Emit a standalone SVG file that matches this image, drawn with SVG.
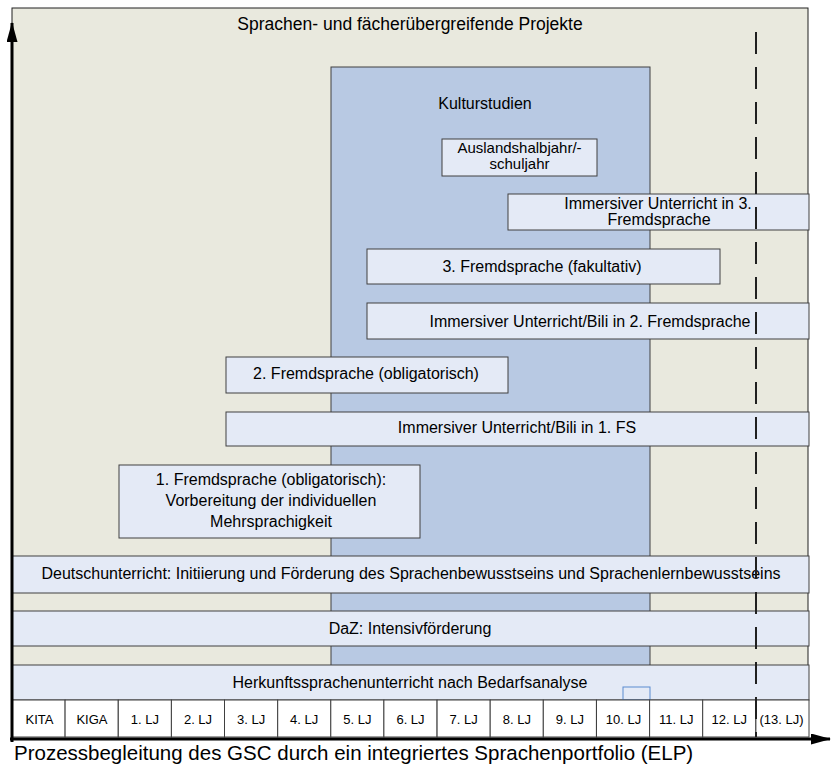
<svg xmlns="http://www.w3.org/2000/svg" width="831" height="771" viewBox="0 0 831 771">
<style>
text{font-family:"Liberation Sans",Arial,sans-serif;fill:#000}
.bar{fill:#E4EAF6;stroke:#404040;stroke-width:1}
.lbl{font-size:16px;text-anchor:middle}
.cell{fill:#fff;stroke:#404040;stroke-width:1}
.ct{font-size:13px;text-anchor:middle}
</style>
<defs>
<marker id="ah" viewBox="0 0 20 11" refX="19" refY="5.5" markerWidth="20" markerHeight="11" orient="auto" markerUnits="userSpaceOnUse"><path d="M0,0 L20,5.5 L0,11 z" fill="#000"/></marker>
</defs>
<g id="background">
<rect x="12" y="8" width="796" height="692" fill="#E9E9DE" stroke="#202020" stroke-width="1"/>
<text class="lbl" x="410" y="30" style="font-size:17.5px">Sprachen- und fächerübergreifende Projekte</text>
</g>
<g id="kulturstudien">
<rect x="331" y="67" width="319" height="633" fill="#B8C9E3" stroke="#404040" stroke-width="1"/>
<text class="lbl" x="485" y="109">Kulturstudien</text>
</g>
<g id="auslandshalbjahr">
<rect class="bar" x="442" y="139" width="155" height="37"/>
<text class="lbl" x="519.5" y="153" style="font-size:15px">Auslandshalbjahr/-</text>
<text class="lbl" x="519.5" y="169" style="font-size:15px">schuljahr</text>
</g>
<g id="imm3">
<rect class="bar" x="508" y="194" width="301" height="36"/>
<text class="lbl" x="658" y="209">Immersiver Unterricht in 3.</text>
<text class="lbl" x="659" y="225">Fremdsprache</text>
</g>
<g id="fs3">
<rect class="bar" x="367" y="249" width="353" height="35"/>
<text class="lbl" x="542" y="272">3. Fremdsprache (fakultativ)</text>
</g>
<g id="imm2">
<rect class="bar" x="367" y="303" width="442" height="36"/>
<text class="lbl" x="590" y="327">Immersiver Unterricht/Bili in 2. Fremdsprache</text>
</g>
<g id="fs2">
<rect class="bar" x="226" y="357" width="282" height="36"/>
<text class="lbl" x="366" y="379">2. Fremdsprache (obligatorisch)</text>
</g>
<g id="imm1">
<rect class="bar" x="226" y="412" width="583" height="34"/>
<text class="lbl" x="517" y="433">Immersiver Unterricht/Bili in 1. FS</text>
</g>
<g id="fs1">
<rect class="bar" x="119" y="465" width="301" height="73"/>
<text class="lbl" x="271" y="485">1. Fremdsprache (obligatorisch):</text>
<text class="lbl" x="271" y="506">Vorbereitung der individuellen</text>
<text class="lbl" x="271" y="527">Mehrsprachigkeit</text>
</g>
<g id="deutsch">
<rect class="bar" x="12" y="556" width="797" height="37"/>
<text class="lbl" x="411" y="579">Deutschunterricht: Initiierung und Förderung des Sprachenbewusstseins und Sprachenlernbewusstseins</text>
</g>
<g id="daz">
<rect class="bar" x="12" y="611" width="797" height="35"/>
<text class="lbl" x="410" y="634">DaZ: Intensivförderung</text>
</g>
<g id="herkunft">
<rect class="bar" x="12" y="665" width="797" height="35"/>
<text class="lbl" x="410" y="688">Herkunftssprachenunterricht nach Bedarfsanalyse</text>
<rect x="623" y="687" width="27" height="13" fill="none" stroke="#5B8BD0" stroke-width="1"/>
</g>
<g id="years">
<rect class="cell" x="12" y="700" width="53.1" height="37"/><text class="ct" x="39.5" y="724">KITA</text>
<rect class="cell" x="65.1" y="700" width="53.1" height="37"/><text class="ct" x="92" y="724">KIGA</text>
<rect class="cell" x="118.3" y="700" width="53.1" height="37"/><text class="ct" x="144.8" y="724">1. LJ</text>
<rect class="cell" x="171.4" y="700" width="53.1" height="37"/><text class="ct" x="198" y="724">2. LJ</text>
<rect class="cell" x="224.5" y="700" width="53.1" height="37"/><text class="ct" x="251.1" y="724">3. LJ</text>
<rect class="cell" x="277.7" y="700" width="53.1" height="37"/><text class="ct" x="304.2" y="724">4. LJ</text>
<rect class="cell" x="330.8" y="700" width="53.1" height="37"/><text class="ct" x="357.4" y="724">5. LJ</text>
<rect class="cell" x="383.9" y="700" width="53.1" height="37"/><text class="ct" x="410.5" y="724">6. LJ</text>
<rect class="cell" x="437.1" y="700" width="53.1" height="37"/><text class="ct" x="463.6" y="724">7. LJ</text>
<rect class="cell" x="490.2" y="700" width="53.1" height="37"/><text class="ct" x="516.8" y="724">8. LJ</text>
<rect class="cell" x="543.3" y="700" width="53.1" height="37"/><text class="ct" x="569.9" y="724">9. LJ</text>
<rect class="cell" x="596.5" y="700" width="53.1" height="37"/><text class="ct" x="623.5" y="724">10. LJ</text>
<rect class="cell" x="649.6" y="700" width="53.1" height="37"/><text class="ct" x="676.2" y="724">11. LJ</text>
<rect class="cell" x="702.7" y="700" width="53.1" height="37"/><text class="ct" x="729.3" y="724">12. LJ</text>
<rect class="cell" x="755.9" y="700" width="53.1" height="37"/><text class="ct" x="781.5" y="724">(13. LJ)</text>
</g>
<g id="connectors">
<line x1="756" y1="32" x2="756" y2="737" stroke="#202020" stroke-width="2" stroke-dasharray="22,13"/>
<line x1="12" y1="742" x2="12" y2="23" stroke="#000" stroke-width="3" marker-end="url(#ah)"/>
<line x1="10" y1="739" x2="830" y2="739" stroke="#000" stroke-width="3" marker-end="url(#ah)"/>
</g>
<text x="14" y="760" style="font-size:20.5px">Prozessbegleitung des GSC durch ein integriertes Sprachenportfolio (ELP)</text>
</svg>
